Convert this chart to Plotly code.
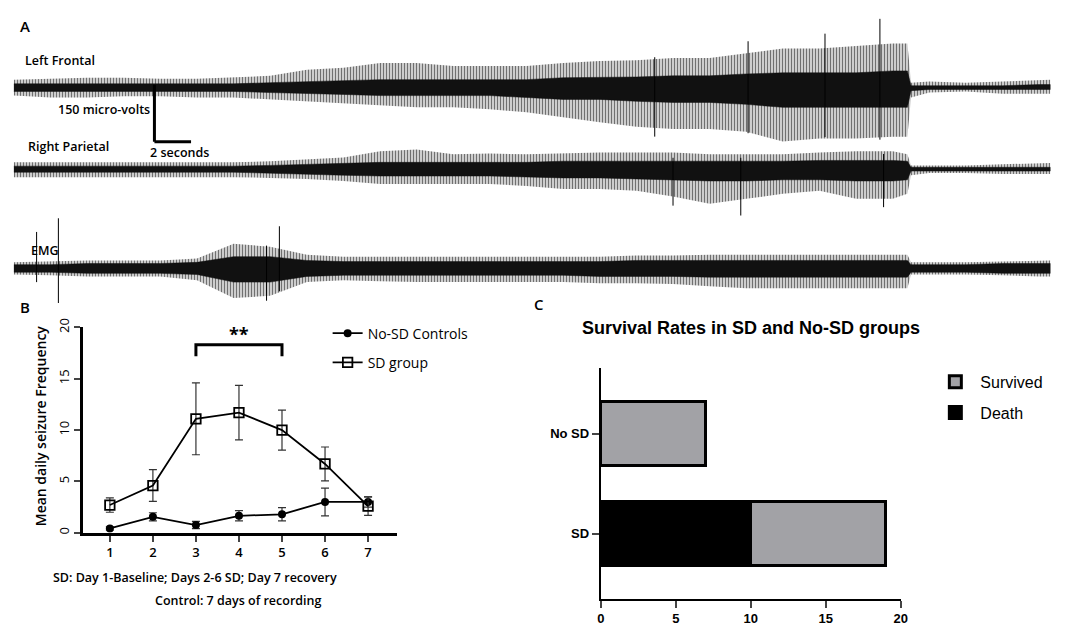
import plotly.graph_objects as go

W, H = 1066, 635

# ---------------- Panel A: EEG / EMG traces (amplitude envelopes) ----------------
eeg_t_s = [0, 2, 4, 6, 8, 10, 12, 14, 16, 18, 20, 22, 24, 26, 28, 30, 32, 34, 36, 38,
           40, 42, 44, 46, 48, 48.8, 49.0, 50, 52, 54, 56, 56.6]

lf_up_uv = [21, 23, 26, 26, 23, 23, 26, 31, 47, 52, 65, 65, 57, 57, 57, 65, 70, 72, 78, 78,
            91, 103, 103, 109, 116, 116, 13, 16, 13, 16, 21, 21]
lf_dn_uv = [21, 26, 26, 23, 23, 26, 26, 31, 36, 41, 47, 52, 52, 57, 65, 78, 91, 103, 109, 109,
            116, 142, 134, 134, 129, 129, 26, 13, 10, 16, 16, 16]
lf_core_up_uv = [10, 10, 10, 10, 10, 10, 10, 13, 16, 18, 21, 21, 21, 21, 21, 26, 26, 28, 31, 31,
                 36, 39, 39, 39, 44, 44, 5, 5, 5, 5, 8, 8]
lf_core_dn_uv = [10, 10, 10, 10, 10, 10, 10, 13, 16, 18, 21, 21, 21, 21, 26, 31, 31, 36, 39, 39,
                 44, 52, 52, 52, 52, 52, 8, 5, 5, 5, 5, 5]

rp_up_uv = [18, 18, 18, 18, 18, 18, 18, 21, 26, 31, 47, 52, 39, 41, 39, 41, 44, 44, 44, 39,
            39, 39, 44, 47, 47, 39, 10, 10, 10, 13, 16, 16]
rp_dn_uv = [21, 21, 21, 21, 21, 21, 21, 23, 26, 31, 39, 39, 39, 39, 44, 52, 52, 57, 72, 91,
            78, 65, 57, 78, 78, 65, 16, 10, 10, 13, 13, 13]
rp_core_up_uv = [8, 8, 8, 8, 8, 8, 8, 10, 13, 16, 18, 18, 18, 18, 18, 21, 21, 21, 21, 21,
                 21, 21, 23, 23, 23, 21, 5, 5, 5, 5, 5, 5]
rp_core_dn_uv = [8, 8, 8, 8, 8, 8, 8, 10, 13, 16, 18, 18, 18, 18, 21, 23, 23, 26, 28, 31,
                 31, 28, 28, 31, 31, 28, 5, 5, 5, 5, 5, 5]

emg_up_uv = [16, 18, 21, 21, 21, 26, 65, 57, 36, 31, 31, 31, 31, 31, 31, 31, 31, 34, 34, 36,
             36, 36, 36, 36, 36, 36, 16, 16, 16, 18, 21, 21]
emg_dn_uv = [16, 18, 21, 21, 21, 31, 78, 72, 36, 31, 34, 36, 36, 36, 36, 36, 39, 39, 41, 47,
             52, 52, 52, 52, 52, 52, 16, 16, 16, 18, 21, 21]
emg_core_up_uv = [10, 10, 13, 13, 13, 16, 31, 31, 21, 18, 18, 18, 18, 18, 18, 18, 18, 21, 21, 21,
                  21, 21, 21, 21, 21, 21, 10, 10, 10, 13, 13, 13]
emg_core_dn_uv = [10, 10, 13, 13, 13, 16, 36, 36, 21, 18, 18, 18, 18, 18, 18, 18, 21, 21, 21, 23,
                  23, 23, 23, 23, 23, 23, 10, 10, 10, 13, 13, 13]

# isolated large deflections: time (s), peak above baseline (uV), trough below baseline (uV)
lf_spike_t = [35.0, 40.1, 44.3, 47.3]
lf_spike_top = [80, 122, 142, 181]
lf_spike_bot = [129, 120, 130, 137]
rp_spike_t = [36.0, 39.7, 47.5]
rp_spike_top = [30, 30, 40]
rp_spike_bot = [96, 122, 100]
emg_spike_t = [1.24, 2.43, 13.8, 14.5]
emg_spike_top = [96, 132, 60, 111]
emg_spike_bot = [36, 91, 85, 60]

scale_uv = 150
scale_s = 2

# ---------------- Panel B: seizure frequency ----------------
days = [1, 2, 3, 4, 5, 6, 7]
ctrl_mean = [0.42, 1.55, 0.75, 1.65, 1.8, 3.0, 3.0]
ctrl_sem = [0.15, 0.4, 0.35, 0.5, 0.65, 1.35, 0.5]
sd_mean = [2.7, 4.6, 11.1, 11.7, 10.0, 6.7, 2.6]
sd_sem = [0.7, 1.55, 3.5, 2.65, 1.95, 1.65, 0.9]
b_yticks = [0, 5, 10, 15, 20]
sig_days = [3, 5]
sig_level = 18.3
sig_drop = 17.2

# ---------------- Panel C: survival ----------------
groups = ["SD", "No SD"]
death = [10, 0]
survived = [9, 7]
c_xticks = [0, 5, 10, 15, 20]

# ---------------- helpers ----------------
def pxx(p):
    return p / W

def pxy(p):
    return 1 - p / H

PX_PER_S = 18.5
T0_PX = 10
UV_PER_PX = 150 / 58.0
A_TOP_PX, A_BOT_PX = 0, 300

fig = go.Figure()

def add_channel(base_px, up, dn, cup, cdn, st, stop, sbot):
    off = -base_px * UV_PER_PX
    xs = eeg_t_s + eeg_t_s[::-1]
    ys = [off + u for u in up] + [off - d for d in dn][::-1]
    fig.add_trace(go.Scatter(x=xs, y=ys, fill="toself", fillcolor="rgba(0,0,0,0)",
                             fillpattern=dict(shape="|", fgcolor="black", bgcolor="rgba(0,0,0,0.12)",
                                              size=3, solidity=0.45),
                             line=dict(width=0), mode="lines",
                             hoverinfo="skip", showlegend=False, xaxis="x", yaxis="y"))
    ys2 = [off + u for u in cup] + [off - d for d in cdn][::-1]
    fig.add_trace(go.Scatter(x=xs, y=ys2, fill="toself", fillcolor="#111111",
                             line=dict(width=0.5, color="#111111"), mode="lines",
                             hoverinfo="skip", showlegend=False, xaxis="x", yaxis="y"))
    sx, sy = [], []
    for t, a, b in zip(st, stop, sbot):
        sx += [t, t, None]
        sy += [off + a, off - b, None]
    fig.add_trace(go.Scatter(x=sx, y=sy, mode="lines", line=dict(width=1, color="black"),
                             hoverinfo="skip", showlegend=False, xaxis="x", yaxis="y"))

add_channel(80, lf_up_uv, lf_dn_uv, lf_core_up_uv, lf_core_dn_uv, lf_spike_t, lf_spike_top, lf_spike_bot)
add_channel(163, rp_up_uv, rp_dn_uv, rp_core_up_uv, rp_core_dn_uv, rp_spike_t, rp_spike_top, rp_spike_bot)
add_channel(264, emg_up_uv, emg_dn_uv, emg_core_up_uv, emg_core_dn_uv, emg_spike_t, emg_spike_top, emg_spike_bot)

# scale bar
sb_t = (152 - T0_PX) / PX_PER_S
sb_top = -77 * UV_PER_PX
sb_bot = sb_top - scale_uv
shapes = [
    dict(type="line", xref="x", yref="y", x0=sb_t, x1=sb_t, y0=sb_top, y1=sb_bot,
         line=dict(color="black", width=3)),
    dict(type="line", xref="x", yref="y", x0=sb_t, x1=sb_t + scale_s, y0=sb_bot, y1=sb_bot,
         line=dict(color="black", width=3)),
]

# ---------------- Panel B traces ----------------
fig.add_trace(go.Scatter(
    x=days, y=ctrl_mean, name="No-SD Controls", mode="lines+markers",
    line=dict(color="black", width=1.8),
    marker=dict(symbol="circle", size=8, color="black"),
    error_y=dict(type="data", array=ctrl_sem, color="#333333", thickness=1.2, width=4),
    xaxis="x2", yaxis="y2", legend="legend", legendgroup="a"))
fig.add_trace(go.Scatter(
    x=days, y=sd_mean, name="SD group", mode="lines+markers",
    line=dict(color="black", width=1.8),
    marker=dict(symbol="square-open", size=9.5, color="black", line=dict(width=1.8)),
    error_y=dict(type="data", array=sd_sem, color="#333333", thickness=1.2, width=4),
    xaxis="x2", yaxis="y2", legend="legend", legendgroup="b"))

# significance bracket
fig.add_trace(go.Scatter(
    x=[sig_days[0], sig_days[0], sig_days[1], sig_days[1]],
    y=[sig_drop, sig_level, sig_level, sig_drop], mode="lines",
    line=dict(color="black", width=3), hoverinfo="skip", showlegend=False,
    xaxis="x2", yaxis="y2"))

# ---------------- Panel C traces ----------------
fig.add_trace(go.Bar(y=groups, x=death, name="Death", orientation="h",
                     marker=dict(color="black", line=dict(color="black", width=3)),
                     width=0.64, xaxis="x3", yaxis="y3", legend="legend2",
                     legendgroup="d", legendrank=2))
fig.add_trace(go.Bar(y=groups, x=survived, name="Survived", orientation="h",
                     marker=dict(color="#A2A2A6", line=dict(color="black", width=3)),
                     width=0.64, xaxis="x3", yaxis="y3", legend="legend2",
                     legendgroup="s", legendrank=1))

SEG = "Open Sans"
ARL = "Liberation Sans"

ann = []
def add_text(text, x, y, size, xanchor="left", yanchor="middle", family=SEG, weight=600, angle=0, color="black"):
    ann.append(dict(text=text, x=pxx(x), y=pxy(y), xref="paper", yref="paper", showarrow=False,
                    xanchor=xanchor, yanchor=yanchor, textangle=angle,
                    font=dict(family=family, size=size, color=color, weight=weight)))

add_text("A", 14, 17, 15, weight=600)
add_text("Left Frontal", 19, 52, 12.5)
add_text("Right Parietal", 22, 140, 12.5)
add_text("EMG", 25, 246, 12.5)
add_text("150 micro-volts", 150, 102, 12.5, xanchor="right")
add_text("2 seconds", 146, 146, 12.5)
add_text("B", 14, 303, 15, weight=600)
add_text("C", 534, 300, 15, weight=600)
add_text("Mean daily seizure Frequency", 37, 424, 14, xanchor="center", angle=-90)
add_text("SD: Day 1-Baseline; Days 2-6 SD; Day 7 recovery", 193, 579, 12.5, xanchor="center")
add_text("Control: 7 days of recording", 237, 602, 12.5, xanchor="center")
add_text("Survival Rates in SD and No-SD groups", 755, 325, 18, xanchor="center", family=ARL, weight=700)
ann.append(dict(text="**", x=4, y=19.4, xref="x2", yref="y2", showarrow=False,
                xanchor="center", yanchor="middle",
                font=dict(family=SEG, size=18, color="black", weight=700)))

fig.update_layout(
    width=W, height=H, margin=dict(l=0, r=0, t=0, b=0),
    paper_bgcolor="white", plot_bgcolor="white",
    showlegend=True, barmode="stack",
    xaxis=dict(domain=[0, 1], range=[(0 - T0_PX) / PX_PER_S, (W - T0_PX) / PX_PER_S],
               visible=False, fixedrange=True),
    yaxis=dict(domain=[pxy(A_BOT_PX), pxy(A_TOP_PX)],
               range=[-A_BOT_PX * UV_PER_PX, -A_TOP_PX * UV_PER_PX], visible=False),
    xaxis2=dict(domain=[pxx(80), pxx(397)], range=[0.38, 7.67], anchor="y2",
                tickmode="array", tickvals=days, ticks="outside", ticklen=6, tickwidth=2,
                showline=True, linewidth=2.5, linecolor="black", showgrid=False, zeroline=False,
                tickfont=dict(family=SEG, size=13, color="black", weight=600)),
    yaxis2=dict(domain=[pxy(533), pxy(324)], range=[0, 20], anchor="x2",
                tickmode="array", tickvals=b_yticks, ticks="outside", ticklen=6, tickwidth=2,
                tickangle=-90, showline=True, linewidth=2.5, linecolor="black",
                showgrid=False, zeroline=False,
                tickfont=dict(family=SEG, size=13, color="black", weight=400)),
    xaxis3=dict(domain=[pxx(603), pxx(906)], range=[0, 20], anchor="y3",
                tickmode="array", tickvals=c_xticks, ticks="outside", ticklen=7, tickwidth=2,
                showline=True, linewidth=2, linecolor="black", showgrid=False, zeroline=False,
                tickfont=dict(family=ARL, size=13, color="black", weight=700)),
    yaxis3=dict(domain=[pxy(600), pxy(365)], range=[-0.647, 1.657], anchor="x3",
                type="category", categoryorder="array", categoryarray=groups,
                ticks="outside", ticklen=7, tickwidth=2,
                showline=True, linewidth=2, linecolor="black", showgrid=False, zeroline=False,
                tickfont=dict(family=ARL, size=13, color="black", weight=700)),
    legend=dict(x=pxx(327), y=pxy(314), xanchor="left", yanchor="top",
                font=dict(family=SEG, size=14, color="black"),
                traceorder="grouped", tracegroupgap=8, bgcolor="rgba(0,0,0,0)"),
    legend2=dict(x=pxx(936), y=pxy(362), xanchor="left", yanchor="top",
                 font=dict(family=ARL, size=16, color="black"), itemwidth=40,
                 traceorder="grouped", tracegroupgap=7, bgcolor="rgba(0,0,0,0)"),
    shapes=shapes, annotations=ann,
)

fig.write_html("out.html", config={"displayModeBar": False},
               post_script="document.body.style.margin='0';document.body.style.padding='0';")
